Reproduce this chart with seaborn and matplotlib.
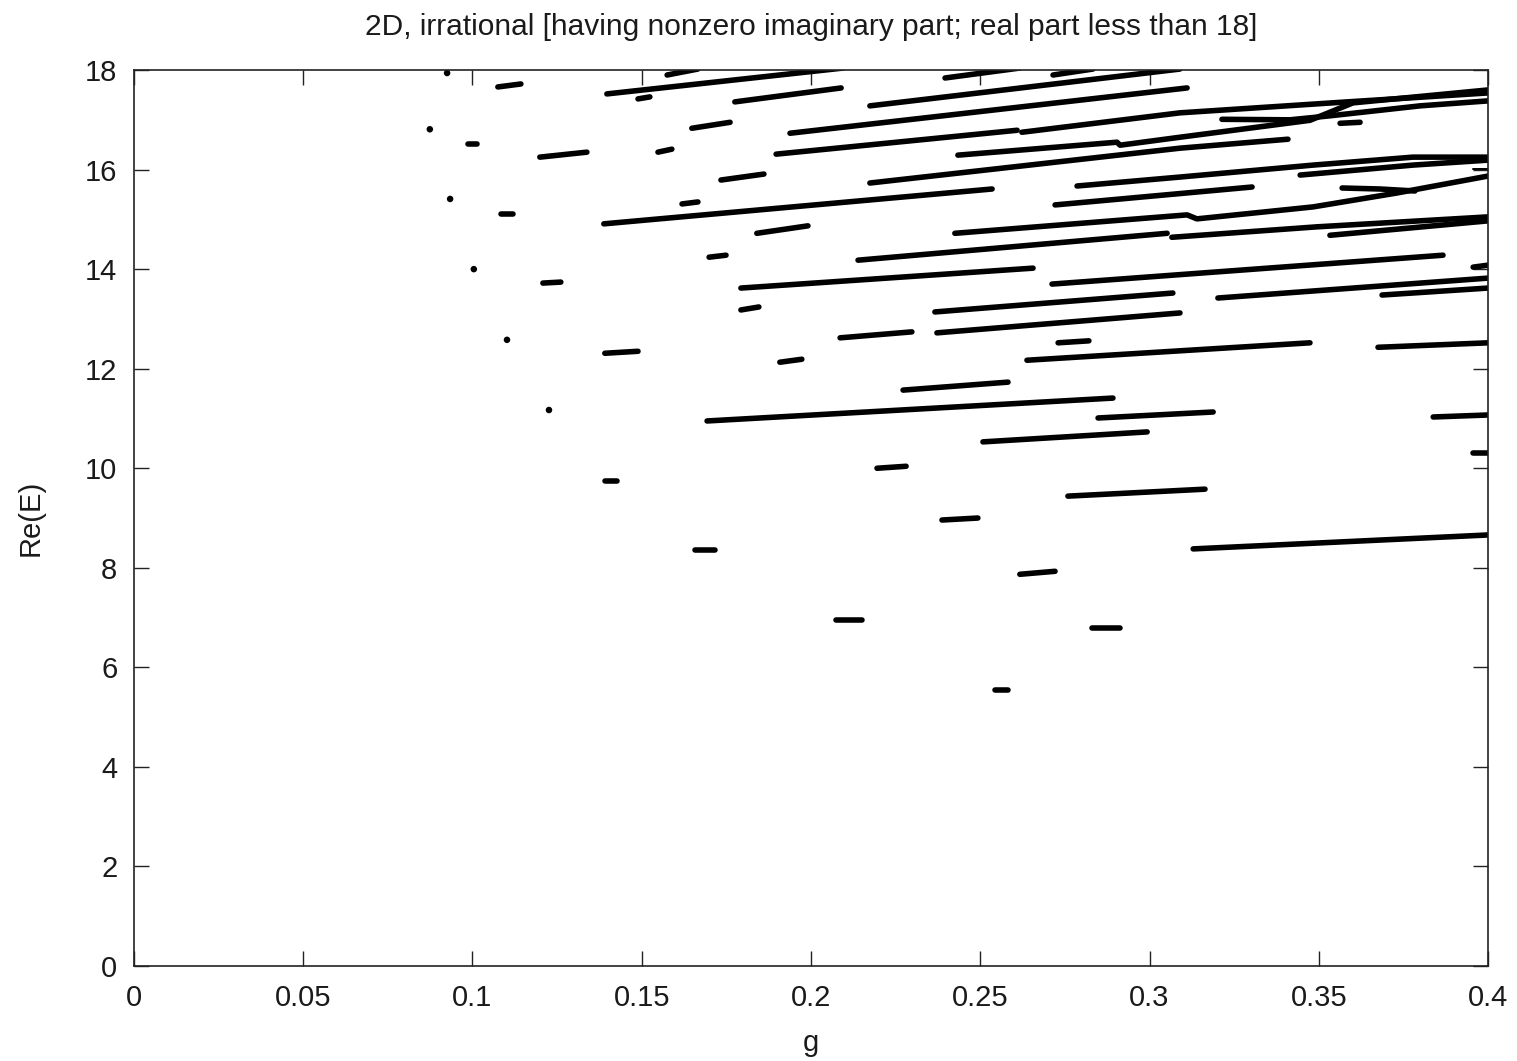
import numpy as np
import pandas as pd
import matplotlib
matplotlib.use("Agg")
import matplotlib.pyplot as plt
import seaborn as sns

# ---------------- data ----------------
title_text = "2D, irrational [having nonzero imaginary part; real part less than 18]"
x_label = "g"
y_label = "Re(E)"
x_ticks = [0, 0.05, 0.1, 0.15, 0.2, 0.25, 0.3, 0.35, 0.4]
x_tick_labels = ["0", "0.05", "0.1", "0.15", "0.2", "0.25", "0.3", "0.35", "0.4"]
y_ticks = [0, 2, 4, 6, 8, 10, 12, 14, 16, 18]

# isolated points (g, Re(E))
dot_g = [0.0925, 0.0874, 0.0934, 0.1004, 0.1102, 0.1226]
dot_E = [17.94, 16.81, 15.41, 14.00, 12.58, 11.17]

# branches of Re(E) vs g (each entry is one polyline)
seg_g = [
    [0.1391, 0.1427], [0.1657, 0.1716], [0.2074, 0.2151], [0.2544, 0.2582],
    [0.1075, 0.1143], [0.0987, 0.1013], [0.1084, 0.1120], [0.1208, 0.1261],
    [0.1391, 0.1489], [0.1908, 0.1973], [0.2195, 0.2281], [0.2387, 0.2493],
    [0.2617, 0.2721], [0.2830, 0.2913], [0.2730, 0.2821],
    [0.1199, 0.1338], [0.1489, 0.1524], [0.1575, 0.1666], [0.1648, 0.1761],
    [0.1548, 0.1589], [0.1619, 0.1666], [0.1734, 0.1861], [0.1699, 0.1749],
    [0.1793, 0.1846], [0.1840, 0.1991], [0.1775, 0.2089], [0.1397, 0.2095],
    [0.1388, 0.2535], [0.1693, 0.2892], [0.1793, 0.2656], [0.1938, 0.3111],
    [0.1897, 0.2609], [0.2174, 0.3090], [0.2396, 0.2617], [0.2715, 0.2833],
    [0.2174, 0.3090, 0.3409], [0.2139, 0.3052], [0.2086, 0.2298],
    [0.2366, 0.3069], [0.2372, 0.3090], [0.2638, 0.3474], [0.3675, 0.4000],
    [0.2712, 0.3867], [0.3956, 0.4000], [0.3202, 0.4000], [0.3687, 0.4000],
    [0.2272, 0.2582], [0.2848, 0.3188], [0.2508, 0.2993], [0.3838, 0.4000],
    [0.3956, 0.4000], [0.2759, 0.3164], [0.3129, 0.4000], [0.2721, 0.3303],
    [0.3066, 0.3495, 0.4000], [0.3533, 0.4000],
    [0.2425, 0.3111, 0.3140, 0.3483, 0.3731, 0.4000],
    [0.3569, 0.3681, 0.3784],
    [0.2786, 0.3090, 0.3483, 0.3778, 0.4000],
    [0.3445, 0.3778, 0.4000],
    [0.2623, 0.3090, 0.3584, 0.4000],
    [0.2434, 0.2904, 0.2913, 0.3090, 0.3474, 0.3601, 0.4000],
    [0.3214, 0.3415, 0.3533, 0.3799, 0.4000],
    [0.3563, 0.3622],
]
seg_E = [
    [9.75, 9.75], [8.36, 8.36], [6.95, 6.95], [5.54, 5.54],
    [17.66, 17.72], [16.51, 16.51], [15.11, 15.11], [13.72, 13.74],
    [12.31, 12.35], [12.13, 12.19], [10.00, 10.04], [8.96, 9.00],
    [7.87, 7.93], [6.79, 6.79], [12.52, 12.56],
    [16.25, 16.35], [17.42, 17.46], [17.90, 18.02], [16.83, 16.95],
    [16.35, 16.41], [15.31, 15.35], [15.79, 15.91], [14.24, 14.28],
    [13.18, 13.24], [14.72, 14.87], [17.36, 17.64], [17.52, 18.04],
    [14.91, 15.61], [10.95, 11.41], [13.62, 14.02], [16.73, 17.64],
    [16.31, 16.79], [17.28, 18.02], [17.84, 18.04], [17.90, 18.02],
    [15.73, 16.43, 16.61], [14.18, 14.72], [12.62, 12.74],
    [13.14, 13.52], [12.72, 13.12], [12.17, 12.52], [12.43, 12.52],
    [13.70, 14.28], [14.04, 14.08], [13.42, 13.82], [13.48, 13.62],
    [11.57, 11.73], [11.01, 11.13], [10.53, 10.73], [11.03, 11.07],
    [10.31, 10.31], [9.44, 9.58], [8.38, 8.66], [15.29, 15.65],
    [14.64, 14.85, 15.05], [14.68, 14.97],
    [14.72, 15.09, 15.01, 15.25, 15.53, 15.87],
    [15.63, 15.61, 15.57],
    [15.67, 15.85, 16.09, 16.25, 16.25],
    [15.89, 16.09, 16.19],
    [16.75, 17.14, 17.36, 17.54],
    [16.29, 16.55, 16.49, 16.65, 16.99, 17.34, 17.60],
    [17.01, 17.00, 17.08, 17.28, 17.38],
    [16.93, 16.95],
]

# thin branch near right edge
thin_g = [0.3956, 0.4000]
thin_E = [16.01, 16.01]

# ---------------- build table ----------------
rows = []
for i, (gs, es) in enumerate(zip(seg_g, seg_E)):
    for k, (g, e) in enumerate(zip(gs, es)):
        rows.append({"branch": i, "order": k, "g": g, "E": e})
df = pd.DataFrame(rows)
dots = pd.DataFrame({"g": dot_g, "E": dot_E})
thin = pd.DataFrame({"branch": [0, 0], "g": thin_g, "E": thin_E})

# ---------------- style ----------------
sns.set_theme(style="ticks")
plt.rcParams["font.family"] = ["Liberation Sans", "DejaVu Sans"]
plt.rcParams["axes.unicode_minus"] = False

fig = plt.figure(figsize=(15.17, 10.61), dpi=100)
ax = fig.add_axes([0.0883, 0.0895, 0.9809 - 0.0883, 0.934 - 0.0895])

sns.lineplot(data=df, x="g", y="E", units="branch", estimator=None, sort=False,
             color="black", linewidth=4.0, ax=ax, legend=False)
for ln in ax.lines:
    ln.set_solid_capstyle("round")
    ln.set_solid_joinstyle("round")
n_main = len(ax.lines)
sns.lineplot(data=thin, x="g", y="E", units="branch", estimator=None, sort=False,
             color="black", linewidth=1.4, ax=ax, legend=False)
sns.scatterplot(data=dots, x="g", y="E", color="black", s=22, edgecolor="none",
                ax=ax, legend=False)

ax.set_xlim(0, 0.4)
ax.set_ylim(0, 18)
ax.set_xticks(x_ticks)
ax.set_xticklabels(x_tick_labels)
ax.set_yticks(y_ticks)
ax.set_yticklabels([str(v) for v in y_ticks])

for s in ax.spines.values():
    s.set_visible(True)
    s.set_linewidth(1.2)
    s.set_color("#222222")

ax.tick_params(axis="both", which="major", direction="in", length=10.5, width=1.0,
               color="#222222", top=True, right=True, labelsize=21,
               labelcolor="#1a1a1a")
ax.tick_params(axis="x", pad=13)
ax.tick_params(axis="y", pad=12)

ax.set_title(title_text, fontsize=21.5, color="#1a1a1a", pad=25)
ax.set_xlabel(x_label, fontsize=21, color="#1a1a1a", labelpad=12)
ax.set_ylabel(y_label, fontsize=21, color="#1a1a1a", labelpad=29)
ax.grid(False)

fig.savefig("out.png", dpi=100, facecolor="white")
